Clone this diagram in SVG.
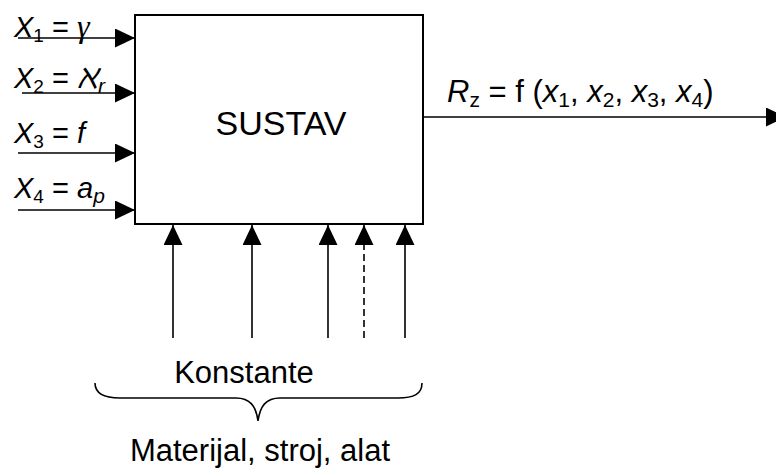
<svg xmlns="http://www.w3.org/2000/svg" width="776" height="468" viewBox="0 0 776 468">
<defs>
<style>
.t{font-family:"Liberation Sans",Arial,sans-serif;fill:#000}
.ln{stroke:#000;stroke-width:1.6;fill:none}
.i{font-style:italic}
.s{font-size:19px}
</style>
<marker id="ah" markerUnits="userSpaceOnUse" markerWidth="22" markerHeight="22" refX="20" refY="9.5" orient="auto">
<path d="M0,0 L20,9.5 L0,19 Z" fill="#000"/>
</marker>
</defs>
<rect width="776" height="468" fill="#fff"/>
<g id="sustav">
<rect x="135" y="15" width="288" height="209" fill="#fff" stroke="#000" stroke-width="2"/>
<text class="t" x="281" y="135" font-size="34" text-anchor="middle">SUSTAV</text>
</g>
<g id="connectors">
<line class="ln" x1="18" y1="38" x2="135" y2="38" marker-end="url(#ah)"/>
<line class="ln" x1="22" y1="93" x2="135" y2="93" marker-end="url(#ah)"/>
<line class="ln" x1="18" y1="153" x2="135" y2="153" marker-end="url(#ah)"/>
<line class="ln" x1="18" y1="210" x2="135" y2="210" marker-end="url(#ah)"/>
<line class="ln" x1="423" y1="117" x2="786" y2="117" marker-end="url(#ah)"/>
<line class="ln" x1="173" y1="338" x2="173" y2="225" marker-end="url(#ah)"/>
<line class="ln" x1="252" y1="338" x2="252" y2="225" marker-end="url(#ah)"/>
<line class="ln" x1="328" y1="338" x2="328" y2="225" marker-end="url(#ah)"/>
<line class="ln" x1="364" y1="338" x2="364" y2="225" stroke-dasharray="7,4" marker-end="url(#ah)"/>
<line class="ln" x1="405" y1="338" x2="405" y2="225" marker-end="url(#ah)"/>
</g>
<g id="inputs">
<text class="t" x="14" y="37" font-size="29"><tspan class="i">X</tspan><tspan class="s" dy="5">1</tspan><tspan dy="-5"> = </tspan><tspan class="i" font-family="'Liberation Serif',serif" font-size="32">γ</tspan></text>
<text class="t" x="14" y="88" font-size="29"><tspan class="i">X</tspan><tspan class="s" dy="5">2</tspan><tspan dy="-5"> = </tspan><tspan class="i" font-family="'DejaVu Serif',serif" font-size="34">ℵ</tspan><tspan class="i" font-size="21" dy="5">r</tspan></text>
<text class="t" x="14" y="143" font-size="29"><tspan class="i">X</tspan><tspan class="s" dy="5">3</tspan><tspan dy="-5"> = </tspan><tspan class="i">f</tspan></text>
<text class="t" x="14" y="198" font-size="29"><tspan class="i">X</tspan><tspan class="s" dy="5">4</tspan><tspan dy="-5"> = </tspan><tspan class="i">a</tspan><tspan class="i" font-size="21" dy="5">p</tspan></text>
</g>
<g id="output">
<text class="t" x="447" y="102" font-size="31"><tspan class="i">R</tspan><tspan font-size="21" dy="5">z</tspan><tspan dy="-5"> = f (</tspan><tspan class="i">x</tspan><tspan font-size="21" dy="5">1</tspan><tspan dy="-5">, </tspan><tspan class="i">x</tspan><tspan font-size="21" dy="5">2</tspan><tspan dy="-5">, </tspan><tspan class="i">x</tspan><tspan font-size="21" dy="5">3</tspan><tspan dy="-5">, </tspan><tspan class="i">x</tspan><tspan font-size="21" dy="5">4</tspan><tspan dy="-5">)</tspan></text>
</g>
<g id="konstante">
<text class="t" x="244" y="383" font-size="31" text-anchor="middle">Konstante</text>
<path class="ln" d="M95,383 C95,394 104,398 120,398 L236,398 C250,398 256,406 258,421 C260,406 266,398 280,398 L398,398 C414,398 422,394 422,383"/>
<text class="t" x="260" y="461" font-size="31" text-anchor="middle">Materijal, stroj, alat</text>
</g>
</svg>
